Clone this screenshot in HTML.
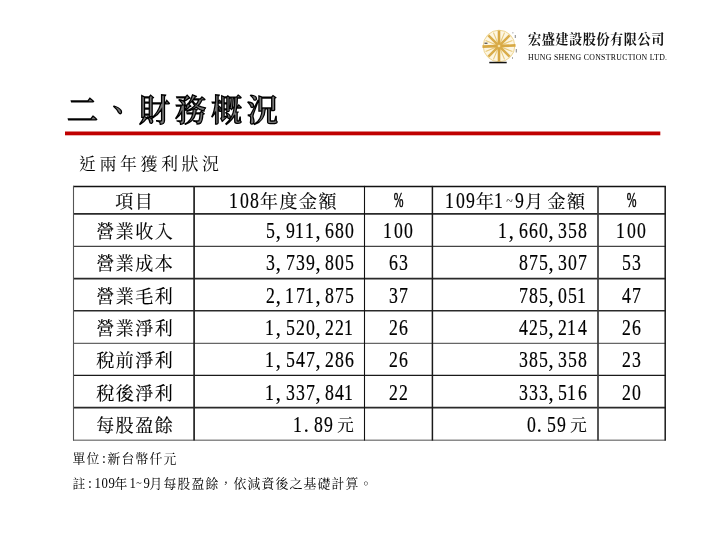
<!DOCTYPE html>
<html lang="zh-Hant">
<head>
<meta charset="utf-8">
<style>
html,body{margin:0;padding:0;background:#fff;}
body{width:720px;height:540px;position:relative;overflow:hidden;}
.abs{position:absolute;}
.ming{font-family:"Liberation Serif","Noto Serif CJK TC","Noto Serif CJK SC",serif;color:#000;}
.title{left:67px;top:88.5px;font-family:"Liberation Serif","Noto Serif CJK TC","Noto Serif CJK SC",serif;font-weight:600;font-size:31px;line-height:44px;letter-spacing:5px;color:#777;-webkit-text-stroke:1.3px #000;white-space:nowrap;}
.red{left:65px;top:131px;width:595px;height:4px;background:#c00000;}
.sub{left:79px;top:152.5px;font-size:17px;line-height:24px;letter-spacing:3.5px;white-space:nowrap;}
.hl{position:absolute;height:1px;background:#111;left:73px;width:593px;}
.vl{position:absolute;width:1.4px;background:#111;top:186px;height:255px;}
.cell{position:absolute;white-space:nowrap;font-size:22.2px;}
.hdr{height:27px;line-height:29px;}
.cj{display:inline-block;width:19.5px;text-align:center;font-size:18px;}
.lab{line-height:36px !important;}
.n{line-height:35px !important;}
.d{display:inline-block;width:11.1px;margin:0 -0.6px;text-align:center;transform:scaleX(0.8);-webkit-text-stroke:0.2px #000;}
.cm{display:inline-block;width:9.9px;text-align:left;}
.tl{display:inline-block;width:9.75px;text-align:center;font-size:12px;vertical-align:3px;}
.sp{display:inline-block;width:3px;}
.c{text-align:center;}
.r{text-align:right;}
.note{left:72.5px;font-size:12.8px;line-height:16px;white-space:nowrap;letter-spacing:1.2px;}
.nd{display:inline-block;width:7px;text-align:center;font-size:15px;letter-spacing:0;transform:scaleX(0.85);}
.nh{display:inline-block;width:7px;text-align:center;font-size:14px;letter-spacing:0;}
.ntl{font-size:10px;vertical-align:2px;}
.logo-cn{left:528px;top:30.5px;font-family:"Liberation Serif","Noto Serif CJK TC","Noto Serif CJK SC",serif;font-weight:700;font-size:13.2px;line-height:18px;letter-spacing:0.5px;white-space:nowrap;color:#111;}
.logo-en{left:528px;top:52.5px;font-family:"Liberation Serif",serif;font-weight:400;font-size:7.8px;line-height:9px;letter-spacing:0.3px;white-space:nowrap;color:#000;}
.pc{display:inline-block;position:relative;top:-1.3px;width:17.1px;margin:0 -3.7px;text-align:center;font-size:20.5px;transform:scaleX(0.57);-webkit-text-stroke:0.5px #000;}
.yuan{font-size:16.5px;text-align:right;width:20.5px;padding-right:1px;vertical-align:1.5px;}
.cell .cj{-webkit-text-stroke:0.15px #000;}
.one{position:relative;left:-1px;}

</style>
</head>
<body>
<svg class="abs" style="left:470px;top:20px" width="56" height="50" viewBox="0 0 56 50">
  <circle cx="29.0" cy="26.0" r="15.8" fill="#fdf6e2" stroke="#ecd18a" stroke-width="0.9"/>
  <line x1="34.55" y1="12.60" x2="23.45" y2="39.40" stroke="#e8c978" stroke-width="1.1"/>
  <line x1="42.40" y1="20.45" x2="15.60" y2="31.55" stroke="#e8c978" stroke-width="1.1"/>
  <line x1="42.40" y1="31.55" x2="15.60" y2="20.45" stroke="#e8c978" stroke-width="1.1"/>
  <line x1="34.55" y1="39.40" x2="23.45" y2="12.60" stroke="#e8c978" stroke-width="1.1"/>
  <line x1="29.00" y1="10.50" x2="29.00" y2="41.50" stroke="#d7a843" stroke-width="2.6"/>
  <line x1="45.49" y1="25.42" x2="12.51" y2="26.58" stroke="#d7a843" stroke-width="2.6"/>
  <line x1="39.61" y1="15.39" x2="18.39" y2="36.61" stroke="#d9ac4a" stroke-width="2.5"/>
  <line x1="39.61" y1="36.61" x2="18.39" y2="15.39" stroke="#d9ac4a" stroke-width="2.5"/>
  <circle cx="29.0" cy="26.0" r="1.3" fill="#f5e2a8"/>
  <rect x="14.5" y="22.6" width="3" height="1.3" fill="#555"/>
  <rect x="44.8" y="15" width="0.9" height="3" fill="#777"/>
  <rect x="45.8" y="29" width="0.9" height="3.5" fill="#777"/>
  <rect x="42.5" y="12" width="0.8" height="1.5" fill="#999"/>
  <rect x="42" y="37" width="0.8" height="2" fill="#999"/>
  <rect x="19.3" y="41.8" width="17.4" height="1.5" fill="#111"/>
</svg>
<div class="abs logo-cn">宏盛建設股份有限公司</div>
<div class="abs logo-en">HUNG SHENG CONSTRUCTION LTD.</div>
<div class="abs title">二、財務概況</div>
<svg class="abs" style="left:0;top:0" width="720" height="140" viewBox="0 0 720 140"><rect x="65" y="131.5" width="595.3" height="3.8" fill="#c00000"/></svg>
<div class="abs ming sub">近兩年獲利狀況</div>

<svg class="abs" style="left:0;top:0" width="720" height="540" viewBox="0 0 720 540">
<line x1="73" y1="186.5" x2="665.9" y2="186.5" stroke="#111" stroke-width="1.3"/>
<line x1="73" y1="213.9" x2="665.9" y2="213.9" stroke="#2a2a2a" stroke-width="1.7"/>
<line x1="73" y1="246.4" x2="665.9" y2="246.4" stroke="#444" stroke-width="1.1"/>
<line x1="73" y1="278.6" x2="665.9" y2="278.6" stroke="#2a2a2a" stroke-width="1.6"/>
<line x1="73" y1="310.7" x2="665.9" y2="310.7" stroke="#2a2a2a" stroke-width="1.6"/>
<line x1="73" y1="343.4" x2="665.9" y2="343.4" stroke="#666" stroke-width="1.1"/>
<line x1="73" y1="375.4" x2="665.9" y2="375.4" stroke="#1a1a1a" stroke-width="1.3"/>
<line x1="73" y1="407.6" x2="665.9" y2="407.6" stroke="#2a2a2a" stroke-width="1.6"/>
<line x1="73" y1="440.3" x2="665.9" y2="440.3" stroke="#8a8a8a" stroke-width="1.4"/>
<line x1="73.5" y1="185.9" x2="73.5" y2="440.6" stroke="#555" stroke-width="1.1"/>
<line x1="194.1" y1="185.9" x2="194.1" y2="440.6" stroke="#222" stroke-width="1.7"/>
<line x1="364.5" y1="185.9" x2="364.5" y2="440.6" stroke="#111" stroke-width="1.1"/>
<line x1="432.4" y1="185.9" x2="432.4" y2="440.6" stroke="#1a1a1a" stroke-width="1.5"/>
<line x1="598.0" y1="185.9" x2="598.0" y2="440.6" stroke="#3a3a3a" stroke-width="1.7"/>
<line x1="665.2" y1="185.9" x2="665.2" y2="440.6" stroke="#1a1a1a" stroke-width="1.5"/>
</svg>
<div class="ming">
<div class="cell hdr" style="left:114.5px;top:186px"><span class="cj">項</span><span class="cj">目</span></div>
<div class="cell hdr" style="left:229.5px;top:186px"><span class="d one">1</span><span class="d">0</span><span class="d">8</span><span class="cj">年</span><span class="cj">度</span><span class="cj">金</span><span class="cj">額</span></div>
<div class="cell c hdr" style="left:365px;width:67px;top:186px"><span class="pc">%</span></div>
<div class="cell hdr" style="left:445.5px;top:186px"><span class="d one">1</span><span class="d">0</span><span class="d">9</span><span class="cj">年</span><span class="d one">1</span><span class="tl">~</span><span class="d">9</span><span class="cj">月</span><span class="sp"> </span><span class="cj">金</span><span class="cj">額</span></div>
<div class="cell c hdr" style="left:598px;width:67px;top:186px"><span class="pc">%</span></div>
<div class="cell lab" style="left:95.5px;top:212.8px;height:33px;line-height:35px"><span class="cj">營</span><span class="cj">業</span><span class="cj">收</span><span class="cj">入</span></div>
<div class="cell r n" style="left:194px;width:160.8px;top:212.8px;height:33px;line-height:35px"><span class="d">5</span><span class="cm">,</span><span class="d">9</span><span class="d one">1</span><span class="d one">1</span><span class="cm">,</span><span class="d">6</span><span class="d">8</span><span class="d">0</span></div>
<div class="cell c n" style="left:365px;width:67px;top:212.8px;height:33px;line-height:35px"><span class="d one">1</span><span class="d">0</span><span class="d">0</span></div>
<div class="cell r n" style="left:432px;width:155.8px;top:212.8px;height:33px;line-height:35px"><span class="d one">1</span><span class="cm">,</span><span class="d">6</span><span class="d">6</span><span class="d">0</span><span class="cm">,</span><span class="d">3</span><span class="d">5</span><span class="d">8</span></div>
<div class="cell c n" style="left:598px;width:67px;top:212.8px;height:33px;line-height:35px"><span class="d one">1</span><span class="d">0</span><span class="d">0</span></div>
<div class="cell lab" style="left:95.5px;top:245.17px;height:33px;line-height:35px"><span class="cj">營</span><span class="cj">業</span><span class="cj">成</span><span class="cj">本</span></div>
<div class="cell r n" style="left:194px;width:160.8px;top:245.17px;height:33px;line-height:35px"><span class="d">3</span><span class="cm">,</span><span class="d">7</span><span class="d">3</span><span class="d">9</span><span class="cm">,</span><span class="d">8</span><span class="d">0</span><span class="d">5</span></div>
<div class="cell c n" style="left:365px;width:67px;top:245.17px;height:33px;line-height:35px"><span class="d">6</span><span class="d">3</span></div>
<div class="cell r n" style="left:432px;width:155.8px;top:245.17px;height:33px;line-height:35px"><span class="d">8</span><span class="d">7</span><span class="d">5</span><span class="cm">,</span><span class="d">3</span><span class="d">0</span><span class="d">7</span></div>
<div class="cell c n" style="left:598px;width:67px;top:245.17px;height:33px;line-height:35px"><span class="d">5</span><span class="d">3</span></div>
<div class="cell lab" style="left:95.5px;top:277.54px;height:33px;line-height:35px"><span class="cj">營</span><span class="cj">業</span><span class="cj">毛</span><span class="cj">利</span></div>
<div class="cell r n" style="left:194px;width:160.8px;top:277.54px;height:33px;line-height:35px"><span class="d">2</span><span class="cm">,</span><span class="d one">1</span><span class="d">7</span><span class="d one">1</span><span class="cm">,</span><span class="d">8</span><span class="d">7</span><span class="d">5</span></div>
<div class="cell c n" style="left:365px;width:67px;top:277.54px;height:33px;line-height:35px"><span class="d">3</span><span class="d">7</span></div>
<div class="cell r n" style="left:432px;width:155.8px;top:277.54px;height:33px;line-height:35px"><span class="d">7</span><span class="d">8</span><span class="d">5</span><span class="cm">,</span><span class="d">0</span><span class="d">5</span><span class="d one">1</span></div>
<div class="cell c n" style="left:598px;width:67px;top:277.54px;height:33px;line-height:35px"><span class="d">4</span><span class="d">7</span></div>
<div class="cell lab" style="left:95.5px;top:309.91px;height:33px;line-height:35px"><span class="cj">營</span><span class="cj">業</span><span class="cj">淨</span><span class="cj">利</span></div>
<div class="cell r n" style="left:194px;width:160.8px;top:309.91px;height:33px;line-height:35px"><span class="d one">1</span><span class="cm">,</span><span class="d">5</span><span class="d">2</span><span class="d">0</span><span class="cm">,</span><span class="d">2</span><span class="d">2</span><span class="d one">1</span></div>
<div class="cell c n" style="left:365px;width:67px;top:309.91px;height:33px;line-height:35px"><span class="d">2</span><span class="d">6</span></div>
<div class="cell r n" style="left:432px;width:155.8px;top:309.91px;height:33px;line-height:35px"><span class="d">4</span><span class="d">2</span><span class="d">5</span><span class="cm">,</span><span class="d">2</span><span class="d one">1</span><span class="d">4</span></div>
<div class="cell c n" style="left:598px;width:67px;top:309.91px;height:33px;line-height:35px"><span class="d">2</span><span class="d">6</span></div>
<div class="cell lab" style="left:95.5px;top:342.28px;height:33px;line-height:35px"><span class="cj">稅</span><span class="cj">前</span><span class="cj">淨</span><span class="cj">利</span></div>
<div class="cell r n" style="left:194px;width:160.8px;top:342.28px;height:33px;line-height:35px"><span class="d one">1</span><span class="cm">,</span><span class="d">5</span><span class="d">4</span><span class="d">7</span><span class="cm">,</span><span class="d">2</span><span class="d">8</span><span class="d">6</span></div>
<div class="cell c n" style="left:365px;width:67px;top:342.28px;height:33px;line-height:35px"><span class="d">2</span><span class="d">6</span></div>
<div class="cell r n" style="left:432px;width:155.8px;top:342.28px;height:33px;line-height:35px"><span class="d">3</span><span class="d">8</span><span class="d">5</span><span class="cm">,</span><span class="d">3</span><span class="d">5</span><span class="d">8</span></div>
<div class="cell c n" style="left:598px;width:67px;top:342.28px;height:33px;line-height:35px"><span class="d">2</span><span class="d">3</span></div>
<div class="cell lab" style="left:95.5px;top:374.65px;height:33px;line-height:35px"><span class="cj">稅</span><span class="cj">後</span><span class="cj">淨</span><span class="cj">利</span></div>
<div class="cell r n" style="left:194px;width:160.8px;top:374.65px;height:33px;line-height:35px"><span class="d one">1</span><span class="cm">,</span><span class="d">3</span><span class="d">3</span><span class="d">7</span><span class="cm">,</span><span class="d">8</span><span class="d">4</span><span class="d one">1</span></div>
<div class="cell c n" style="left:365px;width:67px;top:374.65px;height:33px;line-height:35px"><span class="d">2</span><span class="d">2</span></div>
<div class="cell r n" style="left:432px;width:155.8px;top:374.65px;height:33px;line-height:35px"><span class="d">3</span><span class="d">3</span><span class="d">3</span><span class="cm">,</span><span class="d">5</span><span class="d one">1</span><span class="d">6</span></div>
<div class="cell c n" style="left:598px;width:67px;top:374.65px;height:33px;line-height:35px"><span class="d">2</span><span class="d">0</span></div>
<div class="cell lab" style="left:95.5px;top:407.02px;height:33px;line-height:35px"><span class="cj">每</span><span class="cj">股</span><span class="cj">盈</span><span class="cj">餘</span></div>
<div class="cell r n" style="left:194px;width:160.8px;top:407.02px;height:33px;line-height:35px"><span class="d one">1</span><span class="cm">.</span><span class="d">8</span><span class="d">9</span><span class="cj yuan">元</span></div>
<div class="cell r n" style="left:432px;width:155.8px;top:407.02px;height:33px;line-height:35px"><span class="d">0</span><span class="cm">.</span><span class="d">5</span><span class="d">9</span><span class="cj yuan">元</span></div>
</div>
<div class="abs ming note" style="top:451px">單位<span class="nh">:</span>新台幣仟元</div>
<div class="abs ming note" style="top:475px">註<span class="nh">:</span><span class="nd">1</span><span class="nd">0</span><span class="nd">9</span>年<span class="nd">1</span><span class="nh ntl">~</span><span class="nd">9</span>月每股盈餘，依減資後之基礎計算。</div>
</body>
</html>
